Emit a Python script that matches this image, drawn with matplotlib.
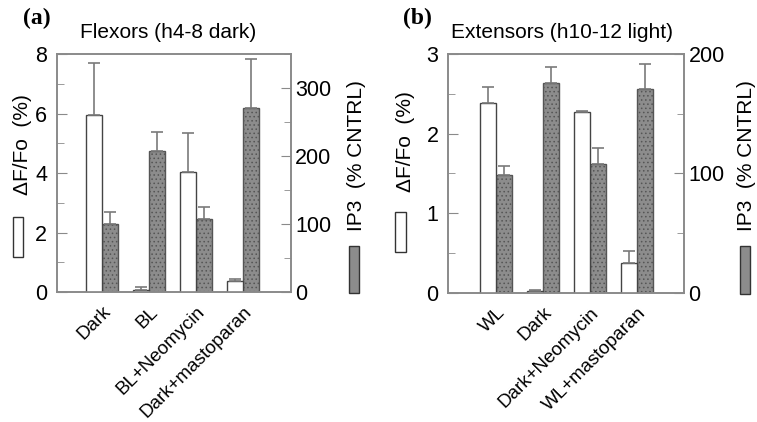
import matplotlib.pyplot as plt
from matplotlib.patches import Rectangle
from matplotlib.ticker import MultipleLocator
import numpy as np

# Panel (a): flexors
a_cats = ['Dark', 'BL', 'BL+Neomycin', 'Dark+mastoparan']
a_df = [5.95, 0.08, 4.05, 0.37]
a_df_err = [1.75, 0.08, 1.3, 0.07]
a_ip3 = [100, 207, 108, 271]
a_ip3_err = [18, 29, 17, 71]

# Panel (b): extensors
b_cats = ['WL', 'Dark', 'Dark+Neomycin', 'WL+mastoparan']
b_df = [2.38, 0.02, 2.27, 0.37]
b_df_err = [0.2, 0.01, 0.01, 0.16]
b_ip3 = [99, 176, 108, 171]
b_ip3_err = [7, 13, 13, 21]

plt.rcParams['font.family'] = ['Liberation Sans', 'DejaVu Sans']
plt.rcParams['hatch.linewidth'] = 0.6

SPINE = '#8a8a8a'
ERR = '#7a7a7a'
GRAY = '#8c8c8c'
W = 0.34


def panel(ax, cats, df, df_err, ip3, ip3_err, ylim, y2lim, left_major, left_minor,
          right_major, right_minor, xlim, title, title_x, letter, letter_x,
          lab_x, lab_y, lab2_x, box_y):
    x = np.arange(len(cats))
    ax2 = ax.twinx()
    ax.set_zorder(ax2.get_zorder() + 1)
    ax.patch.set_visible(False)

    ax.bar(x - W / 2, df, W, facecolor='white', edgecolor='#444444', linewidth=1.0)
    ax.errorbar(x - W / 2, df, yerr=[np.zeros(len(df)), df_err], fmt='none',
                ecolor=ERR, elinewidth=1.2, capsize=4, capthick=1.2)
    ax2.bar(x + W / 2, ip3, W, facecolor=GRAY, edgecolor='#555555',
            linewidth=1.0, hatch='....')
    ax2.errorbar(x + W / 2, ip3, yerr=[np.zeros(len(ip3)), ip3_err], fmt='none',
                 ecolor=ERR, elinewidth=1.2, capsize=4, capthick=1.2)

    ax.set_xlim(*xlim)
    ax.set_ylim(*ylim)
    ax2.set_ylim(*y2lim)
    ax.yaxis.set_major_locator(MultipleLocator(left_major))
    ax.yaxis.set_minor_locator(MultipleLocator(left_minor))
    ax2.yaxis.set_major_locator(MultipleLocator(right_major))
    ax2.yaxis.set_minor_locator(MultipleLocator(right_minor))

    ax.set_xticks(x)
    ax.set_xticklabels(cats, rotation=45, ha='right', rotation_mode='anchor', fontsize=13.5)
    ax.tick_params(axis='x', length=0, pad=8)
    ax.tick_params(axis='y', which='major', direction='in', length=7, color=SPINE,
                   labelsize=15.5, pad=7)
    ax.tick_params(axis='y', which='minor', direction='in', length=5, color=SPINE)
    ax2.tick_params(axis='y', which='major', direction='in', length=7, color=SPINE,
                    labelsize=15.5, pad=3)
    ax2.tick_params(axis='y', which='minor', direction='in', length=5, color=SPINE)
    for a in (ax, ax2):
        for s in a.spines.values():
            s.set_color(SPINE)
            s.set_linewidth(1.2)

    ax.set_ylabel('\u0394F/Fo  (%)', fontsize=15)
    ax.yaxis.set_label_coords(lab_x, lab_y)
    ax2.set_ylabel('IP3  (% CNTRL)', fontsize=15)
    ax2.yaxis.set_label_coords(lab2_x, 0.575)

    # small key boxes under the axis labels
    ax.add_patch(Rectangle((lab_x - 0.083, box_y), 0.045, 0.168, transform=ax.transAxes,
                           facecolor='white', edgecolor='#333333', lw=1.0, clip_on=False))
    ax.add_patch(Rectangle((lab2_x + 0.01, -0.005), 0.043, 0.2, transform=ax.transAxes,
                           facecolor=GRAY, edgecolor='#333333', lw=1.0, clip_on=False))

    ax.text(title_x, 1.09, title, transform=ax.transAxes, ha='center', va='center',
            fontsize=15)
    ax.text(letter_x, 1.15, letter, transform=ax.transAxes, ha='left', va='center',
            fontsize=17, fontweight='bold', family='Liberation Serif')


fig = plt.figure(figsize=(7.57, 4.22), dpi=100)
ax_a = fig.add_axes([0.0753, 0.308, 0.309, 0.564])
ax_b = fig.add_axes([0.592, 0.306, 0.312, 0.566])

panel(ax_a, a_cats, a_df, a_df_err, a_ip3, a_ip3_err, (0, 8), (0, 350), 2, 1, 100, 50,
      (-0.96, 4.02), 'Flexors (h4-8 dark)', 0.474, '(a)', -0.145,
      -0.107, 0.62, 1.239, 0.147)
panel(ax_b, b_cats, b_df, b_df_err, b_ip3, b_ip3_err, (0, 3), (0, 200), 1, 0.5, 100, 50,
      (-1.02, 4.0), 'Extensors (h10-12 light)', 0.483, '(b)', -0.19,
      -0.14, 0.635, 1.225, 0.17)

fig.savefig('out.png', dpi=100)
